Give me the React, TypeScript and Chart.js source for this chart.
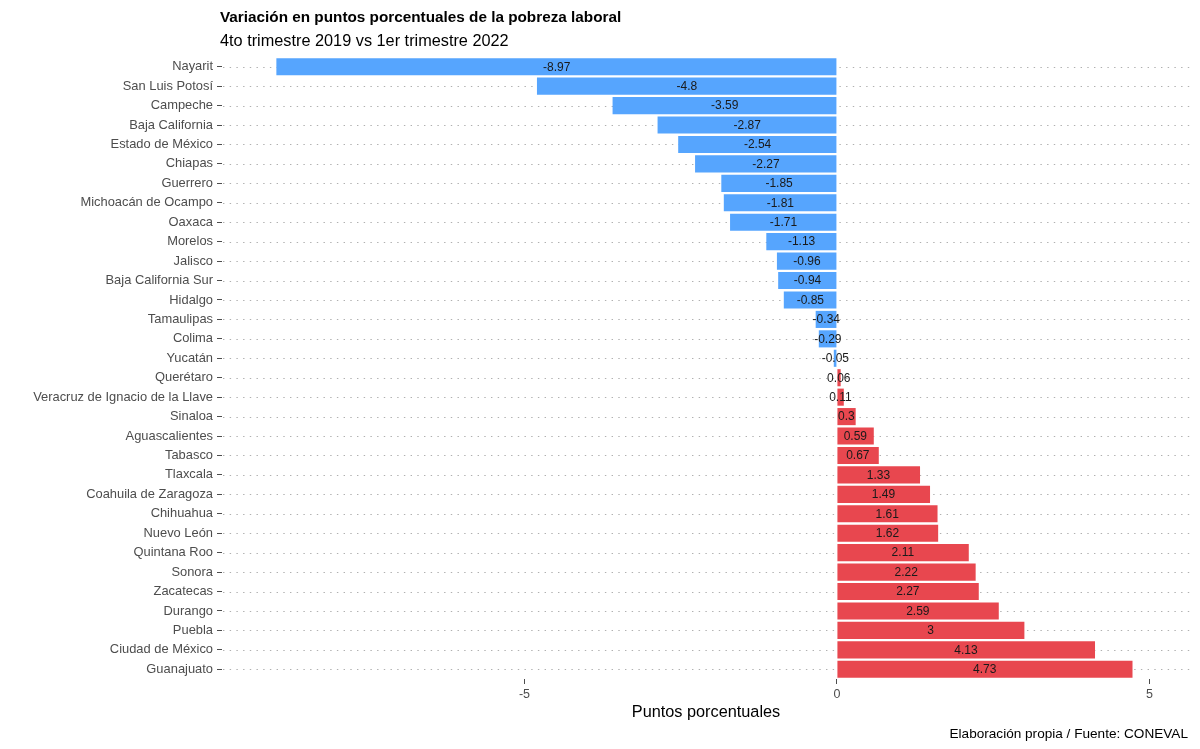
import React, { useEffect, useRef } from "react";
import { Chart, registerables } from "chart.js";

Chart.register(...registerables);

const states: string[] = [
  "Nayarit", "San Luis Potosí", "Campeche", "Baja California", "Estado de México",
  "Chiapas", "Guerrero", "Michoacán de Ocampo", "Oaxaca", "Morelos", "Jalisco",
  "Baja California Sur", "Hidalgo", "Tamaulipas", "Colima", "Yucatán", "Querétaro",
  "Veracruz de Ignacio de la Llave", "Sinaloa", "Aguascalientes", "Tabasco", "Tlaxcala",
  "Coahuila de Zaragoza", "Chihuahua", "Nuevo León", "Quintana Roo", "Sonora",
  "Zacatecas", "Durango", "Puebla", "Ciudad de México", "Guanajuato",
];

const variation: number[] = [
  -8.97, -4.8, -3.59, -2.87, -2.54, -2.27, -1.85, -1.81, -1.71, -1.13, -0.96,
  -0.94, -0.85, -0.34, -0.29, -0.05, 0.06, 0.11, 0.3, 0.59, 0.67, 1.33, 1.49,
  1.61, 1.62, 2.11, 2.22, 2.27, 2.59, 3, 4.13, 4.73,
];

const xTicks: number[] = [-5, 0, 5];

const titleText = "Variación en puntos porcentuales de la pobreza laboral";
const subtitleText = "4to trimestre 2019 vs 1er trimestre 2022";
const xTitleText = "Puntos porcentuales";
const captionText = "Elaboración propia / Fuente: CONEVAL";

const FONT = "'Liberation Sans', Arial, Helvetica, sans-serif";
const BLUE = "#56A5FE";
const RED = "#E8474F";

export default function App() {
  const ref = useRef<HTMLCanvasElement | null>(null);

  useEffect(() => {
    if (!ref.current) return;

    const decor = {
      id: "decor",
      beforeDatasetsDraw(chart: any) {
        const { ctx, chartArea, scales } = chart;
        const y = scales.y;
        ctx.save();
        ctx.strokeStyle = "#B0B0B0";
        ctx.lineWidth = 1.2;
        ctx.setLineDash([1.4, 5.3]);
        states.forEach((_, i) => {
          const py = Math.round(y.getPixelForValue(i)) + 0.5;
          ctx.beginPath();
          ctx.moveTo(chartArea.left + 1, py);
          ctx.lineTo(chartArea.right, py);
          ctx.stroke();
        });
        ctx.restore();
      },
      afterDatasetsDraw(chart: any) {
        const { ctx, chartArea, scales } = chart;
        const x = scales.x;
        const y = scales.y;
        ctx.save();
        ctx.fillStyle = "#1A1A1A";
        ctx.font = `12px ${FONT}`;
        ctx.textAlign = "center";
        ctx.textBaseline = "middle";
        variation.forEach((v, i) => {
          ctx.fillText(String(v), x.getPixelForValue(v / 2), y.getPixelForValue(i) + 0.5);
        });

        ctx.textAlign = "left";
        ctx.textBaseline = "alphabetic";
        ctx.fillStyle = "#000000";
        ctx.font = `bold 15.3px ${FONT}`;
        ctx.fillText(titleText, chartArea.left - 2, 22);
        ctx.font = `16.3px ${FONT}`;
        ctx.fillText(subtitleText, chartArea.left - 2, 46);

        ctx.textAlign = "center";
        ctx.font = `16.3px ${FONT}`;
        ctx.fillText(xTitleText, (chartArea.left + chartArea.right) / 2, 717);

        ctx.textAlign = "right";
        ctx.font = `13.6px ${FONT}`;
        ctx.fillText(captionText, chartArea.right - 2, 738);
        ctx.restore();
      },
    };

    const chart = new Chart(ref.current, {
      type: "bar",
      data: {
        labels: states,
        datasets: [
          {
            data: variation,
            backgroundColor: variation.map((v) => (v < 0 ? BLUE : RED)),
            borderWidth: 0,
            barPercentage: 0.88,
            categoryPercentage: 1.0,
          },
        ],
      },
      options: {
        indexAxis: "y",
        animation: false,
        responsive: false,
        maintainAspectRatio: false,
        devicePixelRatio: 1,
        layout: { padding: { top: 57, right: 10, left: 0, bottom: 0 } },
        plugins: {
          legend: { display: false },
          tooltip: { enabled: false },
          title: { display: false },
        },
        scales: {
          x: {
            type: "linear",
            min: -9.84,
            max: 5.65,
            afterBuildTicks(scale: any) {
              scale.ticks = xTicks.map((v) => ({ value: v }));
            },
            afterFit(scale: any) {
              scale.height = 70;
            },
            grid: {
              drawOnChartArea: false,
              drawTicks: true,
              tickLength: 5,
              tickColor: "#4D4D4D",
              tickWidth: 1,
            },
            border: { display: false },
            ticks: {
              color: "#4D4D4D",
              font: { size: 12.5, family: FONT },
              padding: 3,
              callback: (v: any) => String(v),
            },
          },
          y: {
            type: "category",
            offset: true,
            afterFit(scale: any) {
              scale.width = 222;
            },
            grid: {
              offset: false,
              drawOnChartArea: false,
              drawTicks: true,
              tickLength: 5,
              tickColor: "#4D4D4D",
              tickWidth: 1,
            },
            border: { display: false },
            ticks: {
              color: "#4D4D4D",
              font: { size: 12.9, family: FONT },
              padding: 4,
              autoSkip: false,
            },
          },
        },
      },
      plugins: [decor],
    } as any);

    return () => chart.destroy();
  }, []);

  return (
    <div style={{ position: "fixed", left: 0, top: 0, width: 1200, height: 749, background: "#fff" }}>
      <canvas ref={ref} width={1200} height={749} style={{ width: 1200, height: 749, display: "block" }} />
    </div>
  );
}
